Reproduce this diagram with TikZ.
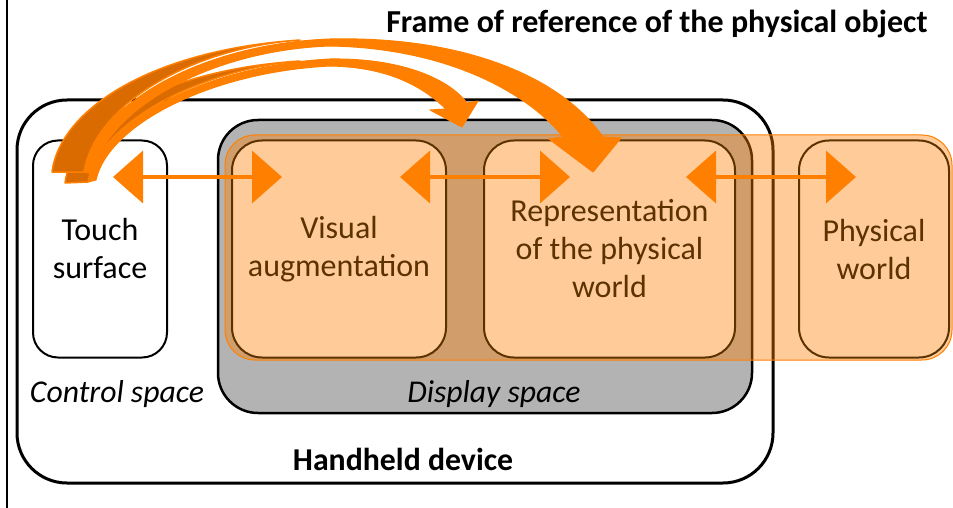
\documentclass[tikz,border=0pt]{standalone}
\usepackage{fontspec}
\setmainfont{Carlito}
\usetikzlibrary{arrows.meta}
\definecolor{orng}{HTML}{FF8000}
\definecolor{dorng}{HTML}{D96B00}
\definecolor{peach}{HTML}{FFCC99}
\definecolor{brn}{HTML}{5C3200}
\definecolor{gry}{HTML}{B3B3B3}
\begin{document}
\begin{tikzpicture}[x=1pt,y=-1pt,
  box/.style={draw=brn, line width=2pt, fill=peach, rounded corners=30pt, text=brn, align=center,
    font=\fontsize{32}{38}\selectfont, inner sep=0pt, minimum height=217pt},
  dbl/.style={orng, line width=4pt, {Triangle[length=30pt,width=52pt]}-{Triangle[length=30pt,width=52pt]}},
  lblit/.style={font=\fontsize{31.7}{36}\selectfont\itshape, anchor=base},
  lblbf/.style={font=\bfseries, anchor=base},
  backarr/.style={fill=dorng, draw=orng, line width=1.5pt, line join=round},
  frontarr/.style={fill=orng, draw=orng, line width=1pt, line join=round}
]
\useasboundingbox (0,0) rectangle (953,508);
\fill[white] (0,0) rectangle (953,508);
\draw[line width=2pt] (7,0) -- (7,508);
% handheld device
\node[draw=black, line width=3pt, rounded corners=50pt, minimum width=756pt, minimum height=383pt, inner sep=0pt] (hand) at (395,291.5) {};
% touch surface
\node[draw=black, line width=2pt, rounded corners=25pt, minimum width=134pt, minimum height=217pt,
  align=center, font=\fontsize{32}{38}\selectfont, inner sep=0pt] (touch) at (100,249) {Touch\\surface};
% display space
\node[draw=black, fill=gry, line width=2.5pt, rounded corners=40pt, minimum width=534pt, minimum height=293pt, inner sep=0pt] (disp) at (485,266.5) {};
% frame band
\node[draw=orng, fill=orng, fill opacity=0.4, draw opacity=1, line width=1pt, rounded corners=30pt,
  minimum width=727pt, minimum height=225pt, inner sep=0pt] (band) at (588.5,247.5) {};
% inner boxes
\node[box, minimum width=214pt] (vis) at (339,249) {Visual\\augmentation};
\node[box, minimum width=251pt] (rep) at (609.5,249) {Representation\\of the physical\\world};
\node[box, minimum width=150pt] (phys) at (874,249) {Physical\\world};
% labels
\node[lblit] (ctrl) at (117,402) {Control space};
\node[lblit] (displ) at (494,402) {Display space};
\node[lblbf, font=\fontsize{31.8}{36}\selectfont\bfseries] (hh) at (403,470) {Handheld device};
\node[lblbf, font=\fontsize{32}{36}\selectfont\bfseries] (frame) at (657,33) {Frame of reference of the physical object};
% double arrows
\coordinate (t1) at (113,177); \coordinate (v1) at (282,177);
\coordinate (v2) at (400,177); \coordinate (r1) at (570,177);
\coordinate (r2) at (686,177); \coordinate (p1) at (856,177);
\draw[dbl] (t1) -- (v1);
\draw[dbl] (v2) -- (r1);
\draw[dbl] (r2) -- (p1);
% curved arrow B (to visual augmentation)
\draw[backarr] (65,183) .. controls (72,125) and (160,70) .. (300,61) .. controls (195,70) and (98,125) .. (88,182) -- cycle;
\draw[frontarr] (88,182) .. controls (98,125) and (200,66) .. (330,59) .. controls (400,58) and (448,78) .. (467,103) -- (478,101) -- (462,127) -- (430,110) -- (446,109) .. controls (420,84) and (385,67) .. (330,66) .. controls (210,72) and (108,125) .. (96,180) -- cycle;
% curved arrow A (to representation)
\draw[backarr] (52,172) .. controls (60,110) and (150,50) .. (300,40) .. controls (190,48) and (95,105) .. (84,172) -- cycle;
\draw[frontarr] (84,172) .. controls (95,105) and (200,44) .. (330,39) .. controls (460,36) and (560,75) .. (603,137) -- (621,138) -- (593,172) -- (549,139) -- (563,137) .. controls (530,95) and (450,48) .. (330,46) .. controls (210,50) and (105,110) .. (93,174) -- cycle;
\end{tikzpicture}
\end{document}
